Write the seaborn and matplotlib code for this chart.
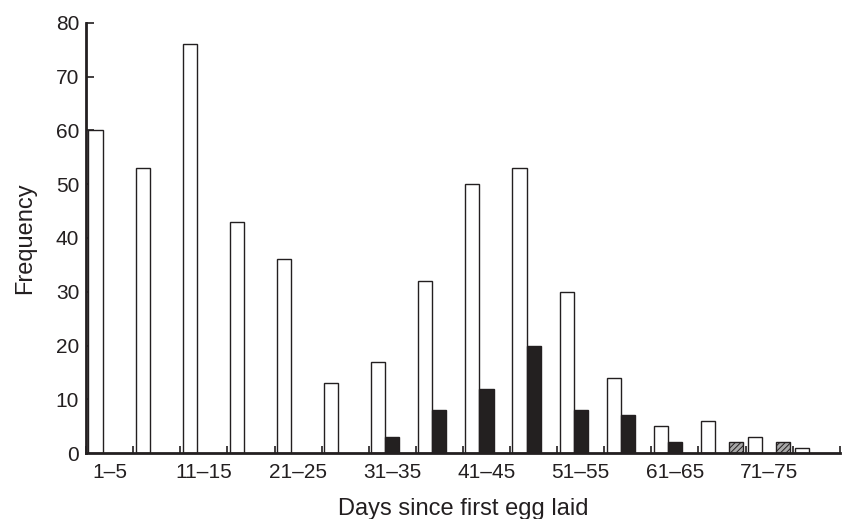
import matplotlib
matplotlib.use("Agg")
import matplotlib.pyplot as plt
import numpy as np
import pandas as pd
import seaborn as sns

# ── data ────────────────────────────────────────────────────────────────────
categories = ["1–5", "6–10", "11–15", "16–20", "21–25", "26–30", "31–35", "36–40",
              "41–45", "46–50", "51–55", "56–60", "61–65", "66–70", "71–75", "76–80"]
open_counts = [60, 53, 76, 43, 36, 13, 17, 32, 50, 53, 30, 14, 5, 6, 3, 1]
solid_counts = [0, 0, 0, 0, 0, 0, 3, 8, 12, 20, 8, 7, 2, 0, 0, 0]
hatched_counts = [0, 0, 0, 0, 0, 0, 0, 0, 0, 0, 0, 0, 0, 2, 2, 0]
series = ["open", "solid", "hatched"]

df = pd.concat([
    pd.DataFrame({"days": categories, "freq": open_counts, "series": "open"}),
    pd.DataFrame({"days": categories, "freq": solid_counts, "series": "solid"}),
    pd.DataFrame({"days": categories, "freq": hatched_counts, "series": "hatched"}),
])

sns.set_theme(style="white")
plt.rcParams["font.family"] = ["Liberation Sans", "DejaVu Sans"]
plt.rcParams["hatch.color"] = "#555555"
plt.rcParams["hatch.linewidth"] = 0.7
plt.rcParams["xtick.bottom"] = True
plt.rcParams["ytick.left"] = True

fig = plt.figure(figsize=(8.44, 5.19), dpi=100)
ax = fig.add_axes([0.102, 0.127, 0.893, 0.829])

sns.barplot(data=df, x="days", y="freq", hue="series", hue_order=series, order=categories,
            palette=["white", "#231f20", "#a8a8a8"], width=0.9, edgecolor="#231f20",
            linewidth=1.0, legend=False, ax=ax, errorbar=None)

# hatch the third series, hide empty bars
for name, cont in zip(series, ax.containers):
    for bar in cont:
        if bar.get_height() == 0:
            bar.set_visible(False)
        if name == "hatched":
            bar.set_hatch("//////")

ax.set_xlim(-0.5, len(categories) - 0.5)
ax.set_ylim(0, 80)
ax.set_yticks(np.arange(0, 81, 10))

ax.set_xticks(range(len(categories)))
ax.set_xticklabels([c if i % 2 == 0 else "" for i, c in enumerate(categories)])
ax.set_xticks(np.arange(-0.5, len(categories), 1.0), minor=True)
ax.tick_params(axis="x", which="major", bottom=False, length=0, pad=7, labelsize=15,
               colors="#231f20")
ax.tick_params(axis="x", which="minor", bottom=True, direction="in", length=5, width=1.2,
               color="#231f20")
ax.tick_params(axis="y", left=True, direction="in", length=6, width=1.2, labelsize=15,
               pad=5, colors="#231f20")

for side in ["top", "right"]:
    ax.spines[side].set_visible(False)
for side in ["left", "bottom"]:
    ax.spines[side].set_linewidth(2.0)
    ax.spines[side].set_color("#231f20")

ax.set_xlabel("Days since first egg laid", fontsize=17, color="#231f20", labelpad=12)
ax.set_ylabel("Frequency", fontsize=17, color="#231f20", labelpad=14)

fig.savefig("out.png", dpi=100)
